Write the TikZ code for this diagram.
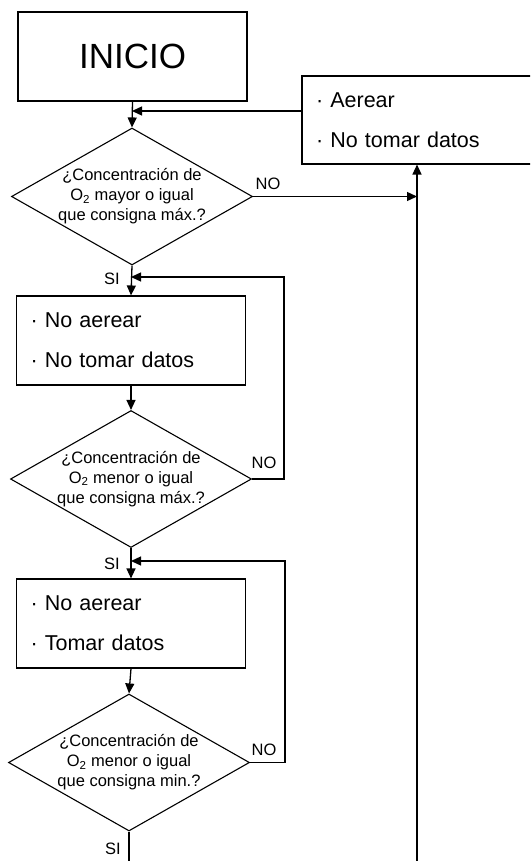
\documentclass[tikz,border=0pt]{standalone}
\usepackage{fontspec}
\setmainfont{Liberation Sans}
\usepackage{tikz}
\usetikzlibrary{shapes.geometric,arrows.meta}

\begin{document}
\begin{tikzpicture}[x=1pt,y=-1pt,line width=1.3pt,>={Triangle[length=10pt,width=9pt]},
caja/.style={draw,rectangle,line width=1.1pt,minimum width=229pt,minimum height=89pt,inner xsep=14pt,text width=201pt,align=left,font=\fontsize{21.5}{40}\selectfont},
rombo/.style={draw,diamond,aspect=1.76,line width=1.1pt,minimum width=241pt,minimum height=137pt,inner sep=-6pt,align=center,font=\fontsize{16.5}{20}\selectfont},
etiq/.style={font=\fontsize{16.5}{18}\selectfont}]
\useasboundingbox(0,0)rectangle(530,861);
\clip(0,0)rectangle(530,861);
\node[caja,align=center,font=\fontsize{35}{40}\selectfont](inicio)at(132.5,56.5){INICIO};
\node[caja,minimum width=240pt,minimum height=88pt,text width=212pt](aerear)at(422,120){· Aerear\\· No tomar datos};
\node[rombo](cond1)at(132,196.5){¿Concentración de\\O\textsubscript{2} mayor o igual\\que consigna máx.?};
\node[caja](paso1)at(131,340.5){· No aerear\\· No tomar datos};
\node[rombo](cond2)at(131,479){¿Concentración de\\O\textsubscript{2} menor o igual\\que consigna máx.?};
\node[caja](paso2)at(131,623.5){· No aerear\\· Tomar datos};
\node[rombo](cond3)at(129,762.5){¿Concentración de\\O\textsubscript{2} menor o igual\\que consigna min.?};
% etiquetas
\node[etiq](no1)at(268,184){NO};
\node[etiq](si1)at(112,279){SI};
\node[etiq](no2)at(264,463){NO};
\node[etiq](si2)at(112,564){SI};
\node[etiq](no3)at(264,750){NO};
\node[etiq](si3)at(113,849){SI};
% uniones
\coordinate(j0)at(132,111);
\coordinate(j1)at(131,277);
\coordinate(j2)at(131,561);
\coordinate(v1)at(417,196.5);
\coordinate(fin1)at(417,861);
\coordinate(fin2)at(129,861);
\draw[->](inicio.south)--(cond1.north);
\draw[->](aerear.west|-j0)--(j0);
\draw[->](cond1.east)--(v1);
\draw[->](fin1)--(aerear.south-|fin1);
\draw[->](cond1.south)--(paso1.north);
\draw[->](paso1.south)--(cond2.north);
\draw[->](cond2.east)--++(32,0)|-(j1);
\draw[->](cond2.south)--(paso2.north);
\draw[->](paso2.south)--(cond3.north);
\draw[->](cond3.east)--++(35,0)|-(j2);
\draw(cond3.south)--(fin2);
\end{tikzpicture}
\end{document}
